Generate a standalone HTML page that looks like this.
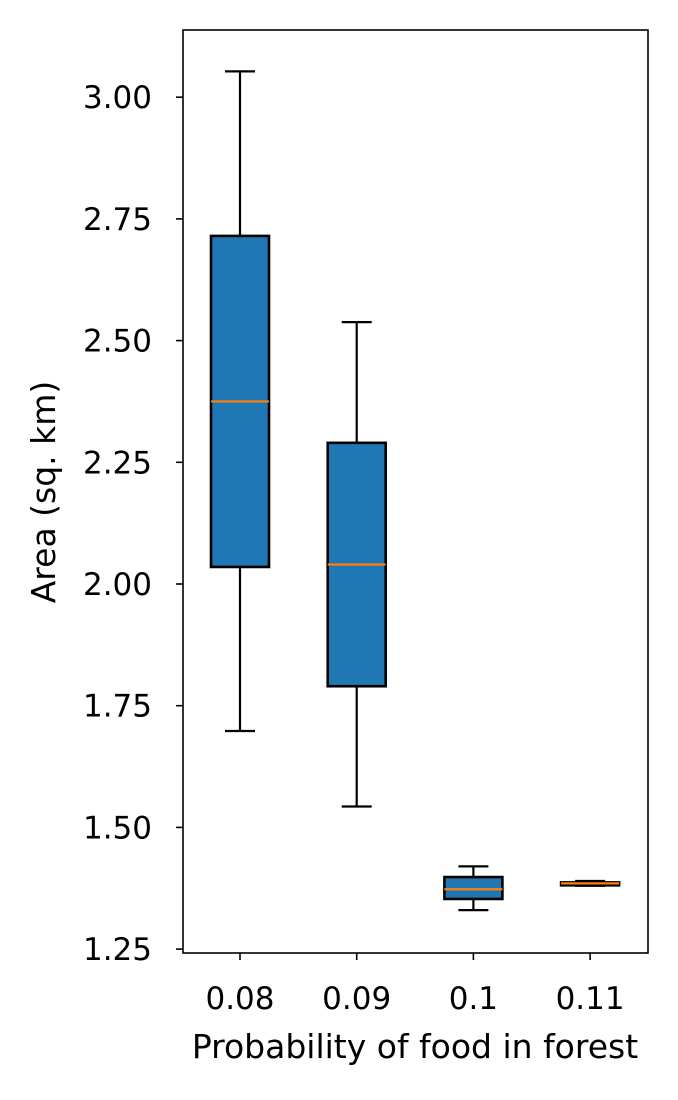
<!DOCTYPE html>
<html><head><meta charset="utf-8"><style>
body{margin:0;background:#fff}
svg text{font-family:"DejaVu Sans","Liberation Sans",sans-serif;fill:#000}
</style></head><body>
<svg id="chart" width="678" height="1095" xmlns="http://www.w3.org/2000/svg">
<g id="marks"></g>
<rect x="183" y="30" width="465" height="923" fill="none" stroke="#000" stroke-width="1.6"/>
<g id="axes"></g>
<text x="415" y="1058" text-anchor="middle" font-size="33">Probability of food in forest</text>
<text transform="translate(55,492) rotate(-90)" text-anchor="middle" font-size="33">Area (sq. km)</text>
</svg>
<script>
const categories=["0.08","0.09","0.1","0.11"];
const whiskerHigh=[3.053,2.538,1.42,1.39];
const q3=[2.715,2.29,1.398,1.387];
const median=[2.375,2.04,1.373,1.385];
const q1=[2.035,1.79,1.353,1.381];
const whiskerLow=[1.698,1.543,1.33,1.38];
const yTicks=[1.25,1.5,1.75,2.0,2.25,2.5,2.75,3.0];
const yTickLabels=["1.25","1.50","1.75","2.00","2.25","2.50","2.75","3.00"];
const NS="http://www.w3.org/2000/svg";
function y(v){return 584-(v-2)*486.8;}
function x(i){return 240+i*116.7;}
const marks=document.getElementById('marks'),axes=document.getElementById('axes');
function mk(p,tag,a){const e=document.createElementNS(NS,tag);for(const k in a)e.setAttribute(k,a[k]);p.appendChild(e);return e;}
categories.forEach((c,i)=>{
 const cx=x(i),bw=58,cw=30;
 const g=mk(marks,'g',{});
 
 
 mk(g,'line',{x1:cx,x2:cx,y1:y(q3[i]),y2:y(whiskerHigh[i]),stroke:'#000','stroke-width':2.2});
 mk(g,'line',{x1:cx,x2:cx,y1:y(q1[i]),y2:y(whiskerLow[i]),stroke:'#000','stroke-width':2.2});
 mk(g,'line',{x1:cx-cw/2,x2:cx+cw/2,y1:y(whiskerHigh[i]),y2:y(whiskerHigh[i]),stroke:'#000','stroke-width':2.2});
 mk(g,'line',{x1:cx-cw/2,x2:cx+cw/2,y1:y(whiskerLow[i]),y2:y(whiskerLow[i]),stroke:'#000','stroke-width':2.2});
 mk(g,'rect',{x:cx-bw/2,y:y(q3[i]),width:bw,height:Math.max(0.5,y(q1[i])-y(q3[i])),fill:'#1f77b4',stroke:'#000','stroke-width':2.6});
 mk(g,'line',{x1:cx-bw/2,x2:cx+bw/2,y1:y(median[i]),y2:y(median[i]),stroke:'#ff7f0e','stroke-width':2.2});
 mk(axes,'line',{x1:cx,x2:cx,y1:953,y2:960,stroke:'#000','stroke-width':1.6});
 const t=mk(axes,'text',{x:cx,y:1009,'text-anchor':'middle','font-size':31});
 t.textContent=c;
 
 
});
yTicks.forEach((v,i)=>{
 mk(axes,'line',{x1:176,x2:183,y1:y(v),y2:y(v),stroke:'#000','stroke-width':1.6});
 const t=mk(axes,'text',{x:152,y:y(v)+11,'text-anchor':'end','font-size':31});
 t.textContent=yTickLabels[i];
 
 
});
</script>
</body></html>
